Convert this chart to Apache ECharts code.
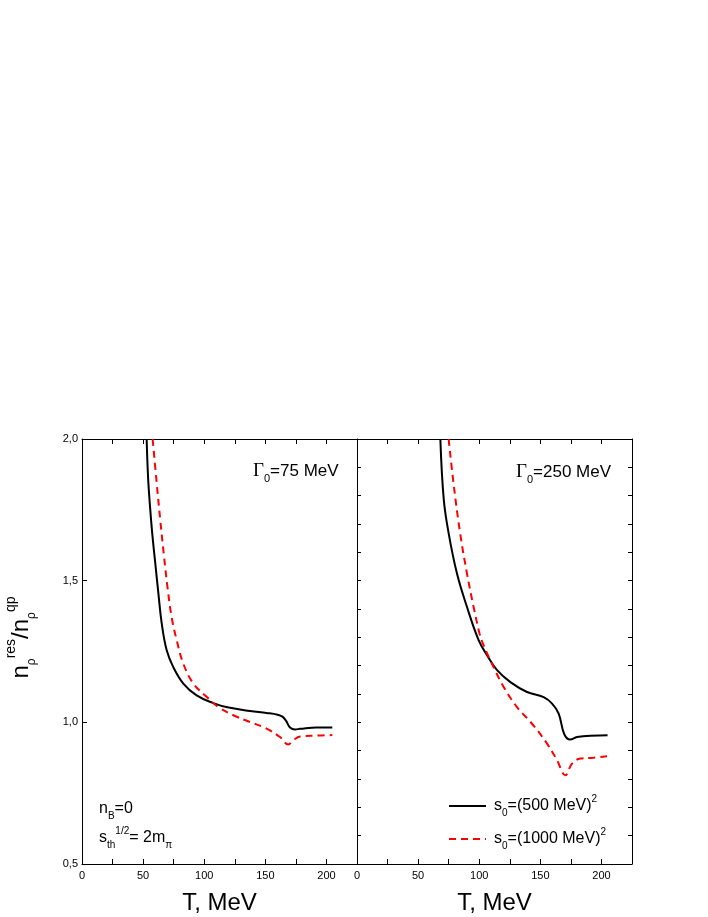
<!DOCTYPE html>
<html>
<head>
<meta charset="utf-8">
<script src="https://cdn.jsdelivr.net/npm/echarts@6/dist/echarts.min.js"></script>
<style>
  html, body { margin: 0; padding: 0; background: #fff; }
  #chart { width: 708px; height: 917px; }
</style>
</head>
<body>
<div id="chart"></div>
<script>
// Gamma0 = 75 MeV (left panel)
var leftSolidT = [52.9, 54.0, 55.5, 57.5, 59.7, 62.5, 65.2, 69.3, 74.7, 82.9, 93.8, 107.4, 120, 137.5, 151, 160, 164, 167, 170.2, 174.3, 178.4, 192, 204.8];
var leftSolidV = [2.0, 1.87, 1.77, 1.665, 1.572, 1.455, 1.35, 1.254, 1.195, 1.137, 1.095, 1.068, 1.052, 1.040, 1.033, 1.027, 1.02, 1.005, 0.982, 0.975, 0.977, 0.982, 0.982];
var leftDashT = [57.8, 61, 64, 67, 70, 73.4, 77.5, 82.9, 91.1, 102, 111.5, 123.8, 137.5, 151, 162, 168.8, 172.9, 178.4, 192, 204.8];
var leftDashV = [2.0, 1.85, 1.715, 1.59, 1.475, 1.37, 1.29, 1.207, 1.137, 1.090, 1.054, 1.025, 1.001, 0.978, 0.948, 0.922, 0.937, 0.950, 0.953, 0.955];

// Gamma0 = 250 MeV (right panel)
var rightSolidT = [68.2, 71, 75, 81.8, 90, 99.5, 106.4, 114.6, 125.5, 139.1, 152.7, 159.6, 165, 169.6, 174.5, 180, 190.9, 205];
var rightSolidV = [2.0, 1.786, 1.667, 1.525, 1.407, 1.29, 1.237, 1.184, 1.142, 1.107, 1.089, 1.066, 1.031, 0.958, 0.939, 0.948, 0.953, 0.954];
var rightDashT = [75, 79, 84.4, 90, 95.4, 100.3, 103, 109.1, 120, 130.9, 143.2, 155.5, 163.7, 170.5, 175.9, 182.7, 193.6, 204.6];
var rightDashV = [2.0, 1.843, 1.667, 1.525, 1.407, 1.313, 1.278, 1.219, 1.125, 1.054, 0.995, 0.925, 0.866, 0.813, 0.854, 0.872, 0.875, 0.880];

var seriesNames = ['s500', 's1000'];

function pairs(xs, ys) {
  var out = [];
  for (var i = 0; i < xs.length; i++) {
    out.push([xs[i], ys[i]]);
  }
  return out;
}

var FONT = 'Liberation Sans, Arial, sans-serif';
var SERIF = 'Liberation Serif, Times New Roman, serif';

var richText = {
  m: { fontFamily: FONT, fontSize: 16, lineHeight: 24, color: '#000' },
  sub: { fontFamily: FONT, fontSize: 10, lineHeight: 9, verticalAlign: 'bottom', color: '#000' },
  sup: { fontFamily: FONT, fontSize: 10, lineHeight: 12, verticalAlign: 'top', color: '#000' }
};
var richGamma = {
  m: { fontFamily: FONT, fontSize: 17, lineHeight: 26, color: '#000' },
  g: { fontFamily: SERIF, fontSize: 19, lineHeight: 26, color: '#000' },
  sub: { fontFamily: FONT, fontSize: 11, lineHeight: 9, verticalAlign: 'bottom', color: '#000' }
};

function xAxisBottom(grid) {
  return {
    type: 'value', gridIndex: grid, position: 'bottom',
    min: 0, max: 225, interval: 25,
    name: 'T, MeV', nameLocation: 'middle', nameGap: 27,
    nameTextStyle: { fontFamily: FONT, fontSize: 24, color: '#000' },
    axisLine: { lineStyle: { color: '#000', width: 1 } },
    axisTick: { inside: true, length: 5, lineStyle: { color: '#000' } },
    axisLabel: {
      fontFamily: FONT, fontSize: 11, color: '#000', margin: 6,
      formatter: function (v) { return v % 50 === 0 && v <= 200 ? String(v) : ''; }
    },
    splitLine: { show: false }
  };
}
function xAxisTop(grid) {
  return {
    type: 'value', gridIndex: grid, position: 'top',
    min: 0, max: 225, interval: 25,
    axisLine: { lineStyle: { color: '#000', width: 1 } },
    axisTick: { inside: true, length: 5, lineStyle: { color: '#000' } },
    axisLabel: { show: false },
    splitLine: { show: false }
  };
}
function yAxisPlain(grid, pos) {
  return {
    type: 'value', gridIndex: grid, position: pos,
    min: 0.5, max: 2.0, interval: 0.1,
    axisLine: { show: true, onZero: false, lineStyle: { color: '#000', width: 1 } },
    axisTick: { show: true, inside: true, length: 4, lineStyle: { color: '#000' } },
    axisLabel: { show: false },
    splitLine: { show: false }
  };
}

function lineSeries(name, xi, yi, xs, ys, color, dashed) {
  return {
    name: name, type: 'line', xAxisIndex: xi, yAxisIndex: yi,
    data: pairs(xs, ys), symbol: 'none', smooth: 0.4,
    lineStyle: { color: color, width: 2, type: dashed ? [7, 5] : 'solid' },
    itemStyle: { color: color }
  };
}

var chart = echarts.init(document.getElementById('chart'));
chart.setOption({
  backgroundColor: '#fff',
  animation: false,
  grid: [
    { left: 82, top: 439, width: 275, height: 425 },
    { left: 357, top: 439, width: 275, height: 425 }
  ],
  xAxis: [xAxisBottom(0), xAxisTop(0), xAxisBottom(1), xAxisTop(1)],
  yAxis: [
    {
      type: 'value', gridIndex: 0, position: 'left',
      min: 0.5, max: 2.0, interval: 0.5,
      name: '{m|n}{sub|ρ}{sup|res}{m|/n}{sub|ρ}{sup|qp}',
      nameLocation: 'middle', nameGap: 44, nameRotate: 90,
      nameTextStyle: {
        padding: [0, 0, 0, 28],
        rich: {
          m: { fontFamily: FONT, fontSize: 24, lineHeight: 34, color: '#000' },
          sub: { fontFamily: FONT, fontSize: 12, lineHeight: 12, verticalAlign: 'bottom', color: '#000' },
          sup: { fontFamily: FONT, fontSize: 14, lineHeight: 14, verticalAlign: 'top', color: '#000' }
        }
      },
      axisLine: { show: true, onZero: false, lineStyle: { color: '#000', width: 1 } },
      axisTick: { inside: true, length: 5, lineStyle: { color: '#000' } },
      axisLabel: {
        fontFamily: FONT, fontSize: 11, color: '#000', margin: 4,
        formatter: function (v) { return v.toFixed(1).replace('.', ','); }
      },
      splitLine: { show: false }
    },
    yAxisPlain(1, 'left'),
    yAxisPlain(1, 'right')
  ],
  legend: {
    orient: 'vertical', left: 443, top: 789,
    itemWidth: 37, itemHeight: 1, itemGap: 9,
    data: seriesNames,
    selectedMode: false,
    formatter: function (name) {
      return name === 's500'
        ? '{m|s}{sub|0}{m|=(500 MeV)}{sup|2}'
        : '{m|s}{sub|0}{m|=(1000 MeV)}{sup|2}';
    },
    textStyle: { padding: [0, 0, 0, 3], rich: richText }
  },
  graphic: [
    { type: 'text', left: 253, top: 462, style: { text: '{g|Γ}{sub|0}{m|=75 MeV}', rich: richGamma } },
    { type: 'text', left: 516, top: 463, style: { text: '{g|Γ}{sub|0}{m|=250 MeV}', rich: richGamma } },
    { type: 'text', left: 99, top: 801, style: { text: '{m|n}{sub|B}{m|=0}', rich: richText } },
    { type: 'text', left: 99, top: 826, style: { text: '{m|s}{sub|th}{sup|1/2}{m|= 2m}{sub|π}', rich: richText } }
  ],
  series: [
    lineSeries(seriesNames[0], 0, 0, leftSolidT, leftSolidV, '#000', false),
    lineSeries(seriesNames[1], 0, 0, leftDashT, leftDashV, '#ff0000', true),
    lineSeries(seriesNames[0], 2, 1, rightSolidT, rightSolidV, '#000', false),
    lineSeries(seriesNames[1], 2, 1, rightDashT, rightDashV, '#ff0000', true)
  ]
});
</script>
</body>
</html>
